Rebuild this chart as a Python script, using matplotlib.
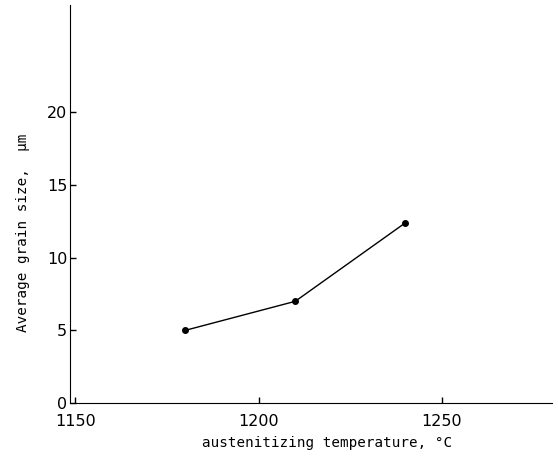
import matplotlib
matplotlib.use("Agg")
import matplotlib.pyplot as plt

temperature = [1180, 1210, 1240]
grain_size = [5.0, 7.0, 12.4]
x_ticks = [1150, 1200, 1250]
y_ticks = [0, 5, 10, 15, 20]

fig = plt.figure(figsize=(5.58, 4.59), dpi=100)
ax = fig.add_axes([70/558, 1-403/459, (552-70)/558, (403-5)/459])
ax.plot(temperature, grain_size, color="black", lw=1.0, marker="o", ms=4)
ax.set_xlim(1148.6, 1280)
ax.set_ylim(0, 27.4)
ax.set_xticks(x_ticks)
ax.set_yticks(y_ticks)
for s in ["top", "right"]:
    ax.spines[s].set_visible(False)
ax.tick_params(direction="in", length=4, labelsize=11.5, width=1)
ax.tick_params(axis="x", pad=8)
ax.tick_params(axis="y", pad=2)
ax.set_xlabel("austenitizing temperature, °C", family="DejaVu Sans Mono", fontsize=10.3)
ax.set_ylabel("Average grain size,  μm", family="DejaVu Sans Mono", fontsize=10.3)
ax.xaxis.set_label_coords(0.533, -0.083)
ax.yaxis.set_label_coords(-0.083, 0.427)
fig.savefig("out.png", dpi=100)
